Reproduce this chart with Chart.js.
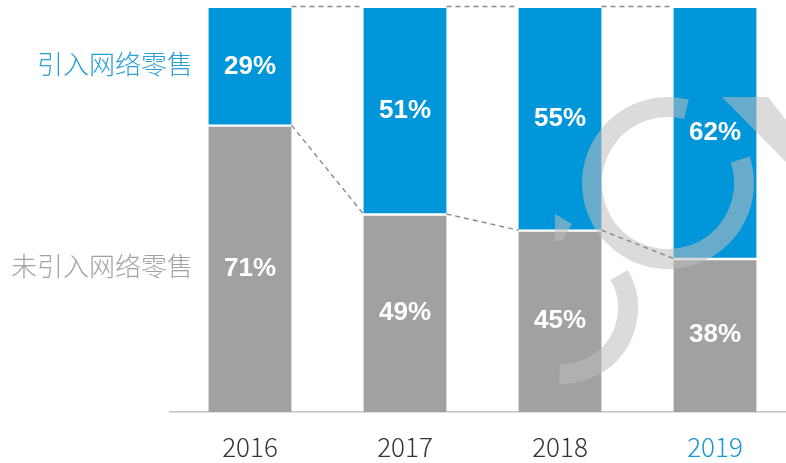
<!DOCTYPE html>
<html>
<head>
<meta charset="utf-8">
<script src="https://cdn.jsdelivr.net/npm/chart.js@4/dist/chart.umd.min.js"></script>
<style>
  html, body { margin: 0; padding: 0; background: #fff; }
  #wrap { width: 786px; height: 463px; position: relative; }
</style>
</head>
<body>
<div id="wrap"><canvas id="c"></canvas></div>
<script>
const years = ['2016', '2017', '2018', '2019'];
const onlineShare = [29, 51, 55, 62];     // 引入网络零售
const offlineShare = [71, 49, 45, 38];    // 未引入网络零售
const seriesNames = ['未引入网络零售', '引入网络零售'];

const BLUE = '#0096d9';
const GRAY = '#a0a1a0';
const BAR_W = 83;

// connectors between bars + series names on the left
const annotate = {
  id: 'annotate',
  afterDatasetsDraw(chart) {
    const ctx = chart.ctx;
    const x = chart.scales.x, y = chart.scales.y;

    // faint ring decoration
    ctx.save();
    ctx.strokeStyle = 'rgba(190,190,190,0.55)';
    ctx.fillStyle = 'rgba(190,190,190,0.55)';
    ctx.lineWidth = 20;
    ctx.beginPath();
    ctx.arc(668, 183, 76, -18 * Math.PI / 180, 284 * Math.PI / 180);
    ctx.stroke();
    ctx.beginPath();
    ctx.arc(562, 308, 66, -30 * Math.PI / 180, 92 * Math.PI / 180);
    ctx.stroke();
    ctx.beginPath();
    ctx.moveTo(722, 97); ctx.lineTo(768, 97); ctx.lineTo(786, 120); ctx.lineTo(786, 162);
    ctx.closePath();
    ctx.fill();
    ctx.beginPath();
    ctx.moveTo(555, 214); ctx.lineTo(572, 224); ctx.lineTo(562, 241); ctx.lineTo(555, 241);
    ctx.closePath();
    ctx.fill();
    ctx.restore();

    ctx.save();
    ctx.strokeStyle = '#8a8a8a';
    ctx.lineWidth = 1.4;
    ctx.setLineDash([5, 4]);
    const top = y.getPixelForValue(100) - 1.5;
    for (let i = 0; i < years.length - 1; i++) {
      const r = x.getPixelForValue(i) + BAR_W / 2;
      const l = x.getPixelForValue(i + 1) - BAR_W / 2;
      ctx.beginPath();
      ctx.moveTo(r, top); ctx.lineTo(l, top);
      ctx.stroke();
      ctx.beginPath();
      ctx.moveTo(r, y.getPixelForValue(offlineShare[i]));
      ctx.lineTo(l, y.getPixelForValue(offlineShare[i + 1]));
      ctx.stroke();
    }
    ctx.restore();
  },
  afterDraw(chart) {
    const ctx = chart.ctx;
    ctx.save();
    // value labels
    ctx.font = 'bold 26px "Liberation Sans", Arial, sans-serif';
    ctx.fillStyle = '#fff';
    ctx.textAlign = 'center';
    ctx.textBaseline = 'middle';
    chart.data.datasets.forEach((ds, di) => {
      chart.getDatasetMeta(di).data.forEach((bar, i) => {
        const p = bar.getProps(['x', 'y', 'base'], true);
        ctx.fillText(ds.data[i].y + '%', p.x, (p.y + p.base) / 2);
      });
    });
    // series names
    ctx.font = '300 26px "Noto Sans CJK SC", sans-serif';
    ctx.textAlign = 'right';
    const first = [chart.getDatasetMeta(0).data[0], chart.getDatasetMeta(1).data[0]];
    const cols = ['#a3a3a3', '#2a9fd8'];
    first.forEach((bar, di) => {
      const p = bar.getProps(['y', 'base'], true);
      ctx.fillStyle = cols[di];
      ctx.fillText(seriesNames[di], 193, (p.y + p.base) / 2 - 2);
    });
    ctx.restore();
  }
};

new Chart(document.getElementById('c'), {
  type: 'bar',
  data: {
    datasets: [
      {
        label: seriesNames[0],
        data: offlineShare.map((v, i) => ({ x: i, y: v })),
        backgroundColor: GRAY,
        borderColor: '#fff',
        borderWidth: { top: 2, left: 0, right: 0, bottom: 0 },
        borderSkipped: false,
        barThickness: BAR_W
      },
      {
        label: seriesNames[1],
        data: onlineShare.map((v, i) => ({ x: i, y: v })),
        backgroundColor: BLUE,
        borderColor: '#fff',
        borderWidth: { top: 0, left: 0, right: 0, bottom: 1 },
        borderSkipped: false,
        barThickness: BAR_W
      }
    ]
  },
  options: {
    responsive: true,
    maintainAspectRatio: false,
    animation: false,
    layout: { padding: { left: 170, top: 8, right: 0, bottom: 0 } },
    plugins: { legend: { display: false }, tooltip: { enabled: false } },
    scales: {
      x: {
        type: 'linear',
        stacked: true,
        offset: false,
        min: -0.516,
        max: 3.458,
        afterBuildTicks(scale) { scale.ticks = years.map((_, i) => ({ value: i })); },
        afterFit(scale) { scale.height = 51; },
        grid: { display: true, offset: false, drawOnChartArea: false, drawTicks: false, color: 'transparent' },
        border: { display: true, color: '#c4c4c4', width: 1.5 },
        ticks: {
          padding: 20,
          autoSkip: false,
          maxRotation: 0,
          font: { family: '"Noto Sans CJK SC", sans-serif', size: 26, weight: '300' },
          color: ctx => (ctx.tick && ctx.tick.value === years.length - 1) ? '#1a96d6' : '#333',
          callback: v => years[v]
        }
      },
      y: {
        display: false,
        stacked: true,
        min: 0,
        max: 100
      }
    }
  },
  plugins: [annotate]
});
</script>
</body>
</html>
